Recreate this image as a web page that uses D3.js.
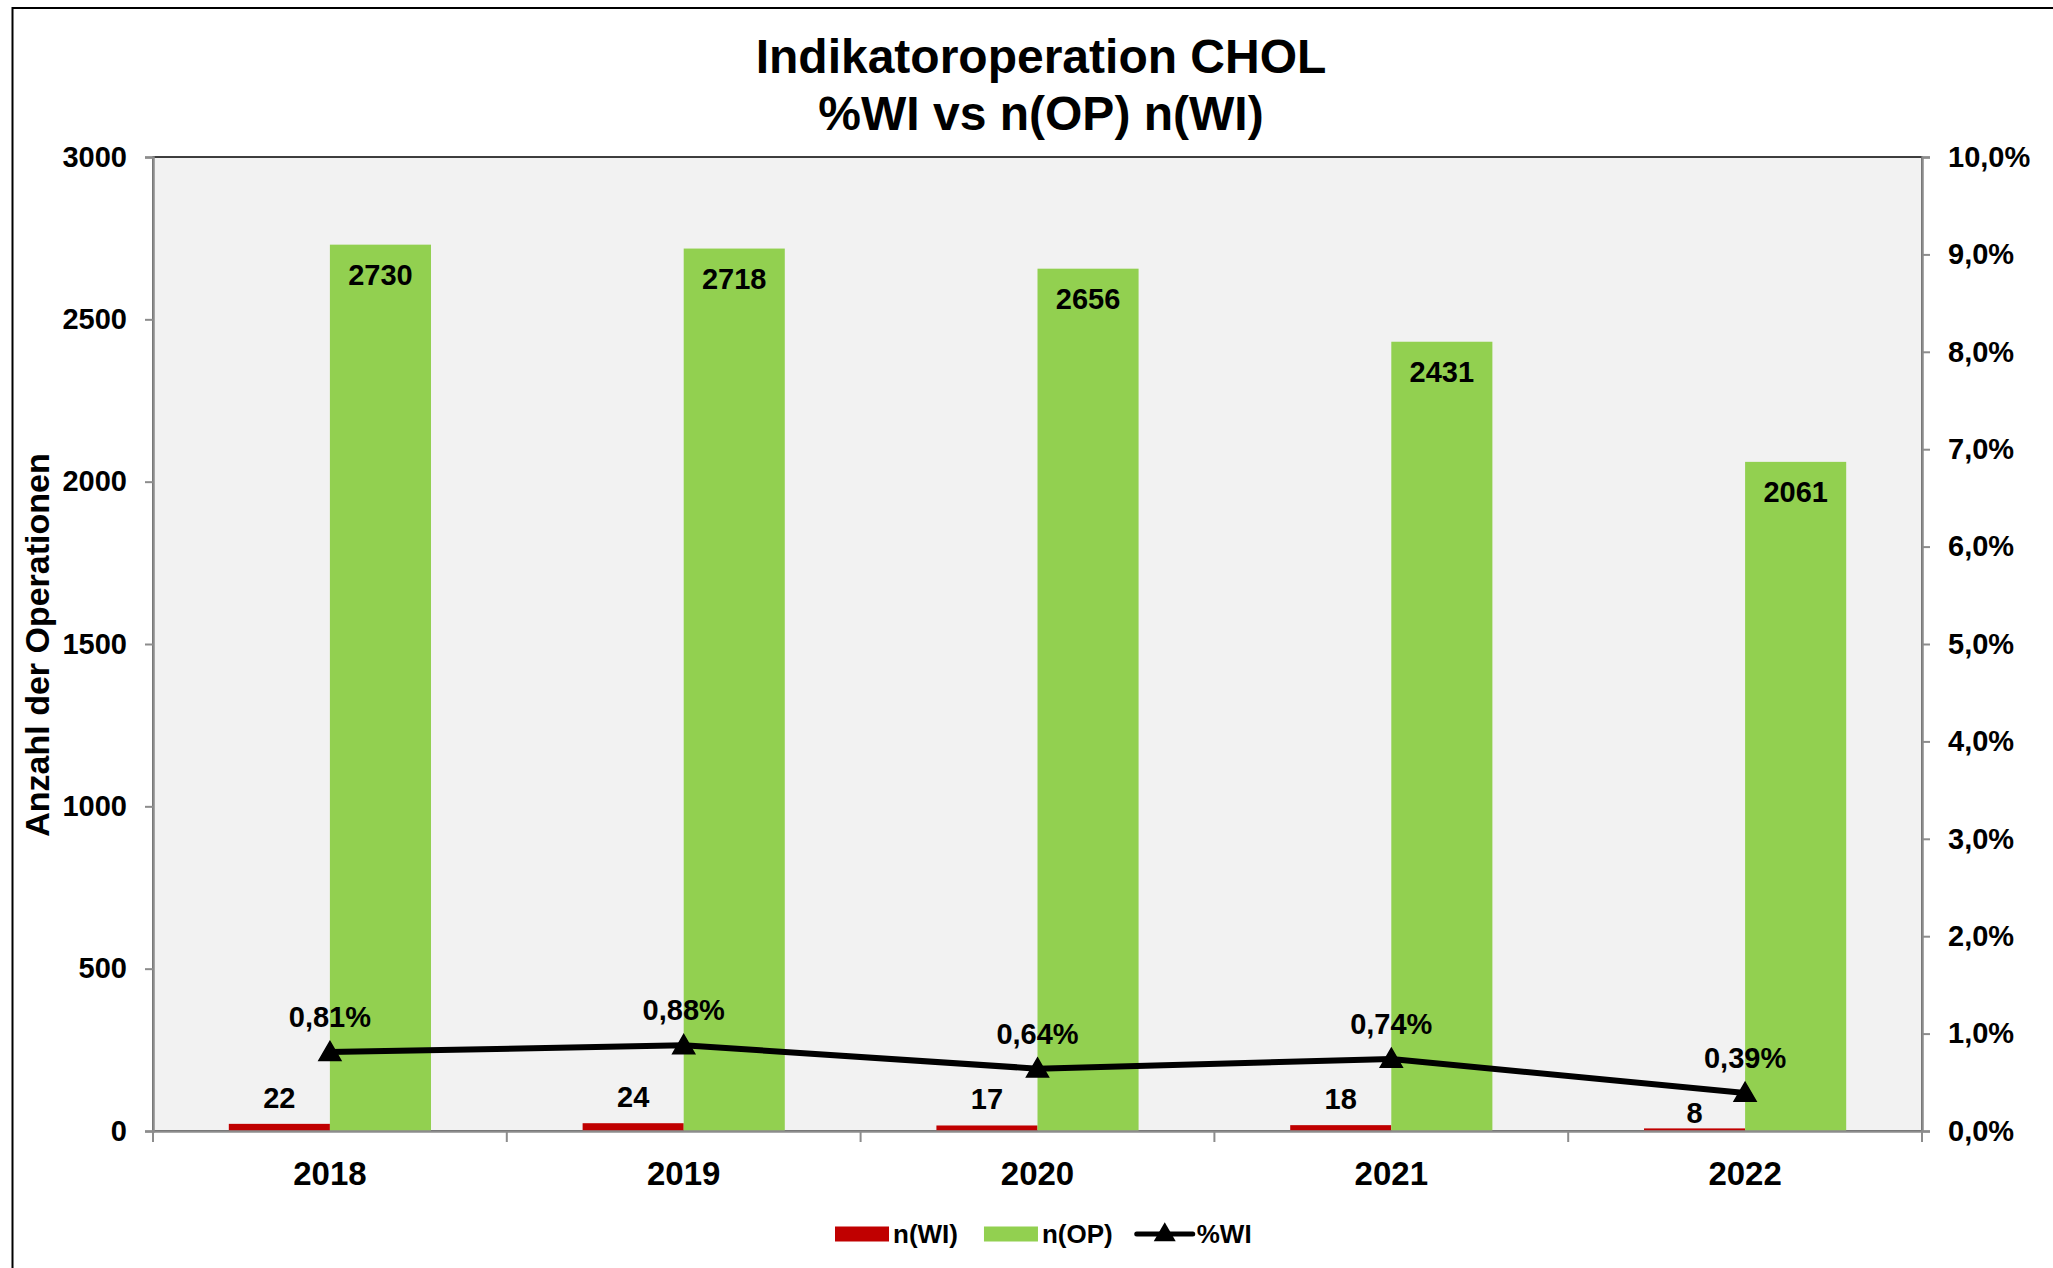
<!DOCTYPE html>
<html>
<head>
<meta charset="utf-8">
<script src="https://cdn.jsdelivr.net/npm/d3@7"></script>
<style>
  body { margin: 0; background: #ffffff; }
  text { font-family: "Liberation Sans", Arial, sans-serif; font-weight: bold; fill: #000; }
</style>
</head>
<body>
<div id="chart"></div>
<script>
// data
var years = ["2018", "2019", "2020", "2021", "2022"];
var nWI = [22, 24, 17, 18, 8];
var nOP = [2730, 2718, 2656, 2431, 2061];
var pctWI = [0.81, 0.88, 0.64, 0.74, 0.39];
var leftTicks = [0, 500, 1000, 1500, 2000, 2500, 3000];
var rightTicks = [0, 1, 2, 3, 4, 5, 6, 7, 8, 9, 10];

var svg_w = 2053, svg_h = 1268;
var plot = {left: 153, right: 1922, top: 157, bottom: 1131};

var svg = d3.select("#chart")
      .append("svg")
      .attr("width", svg_w)
      .attr("height", svg_h);

// outer chart border (runs off the right / bottom edge like the screenshot)
svg.append("rect")
  .attr("x", 12.5)
  .attr("y", 8)
  .attr("width", svg_w + 20)
  .attr("height", svg_h + 20)
  .style("fill", "#ffffff")
  .style("stroke", "#000")
  .style("stroke-width", 2);

// scales
var xScale = d3.scaleBand()
      .domain(years)
      .range([plot.left, plot.right])
      .padding(0);

var subScale = d3.scaleBand()
      .domain(["wi", "op"])
      .range([0, xScale.bandwidth()])
      .paddingInner(0)
      .paddingOuter(0.75);

var yLeft = d3.scaleLinear().domain([0, 3000]).range([plot.bottom, plot.top]);
var yRight = d3.scaleLinear().domain([0, 10]).range([plot.bottom, plot.top]);

// plot background
svg.append("rect")
  .attr("x", plot.left)
  .attr("y", plot.top)
  .attr("width", plot.right - plot.left)
  .attr("height", plot.bottom - plot.top)
  .style("fill", "#f2f2f2")
  .style("stroke", "#000")
  .style("stroke-width", 1.5);

// bars
var rows = years.map(function(y, i) {
  return {year: y, wi: nWI[i], op: nOP[i], pct: pctWI[i]};
});

svg.selectAll(".bar_wi")
  .data(rows)
  .enter()
  .append("rect")
  .attr("class", "bar_wi")
  .attr("x", function(d) { return xScale(d.year) + subScale("wi"); })
  .attr("y", function(d) { return yLeft(d.wi); })
  .attr("width", subScale.bandwidth())
  .attr("height", function(d) { return plot.bottom - yLeft(d.wi); })
  .style("fill", "#c00000");

svg.selectAll(".bar_op")
  .data(rows)
  .enter()
  .append("rect")
  .attr("class", "bar_op")
  .attr("x", function(d) { return xScale(d.year) + subScale("op"); })
  .attr("y", function(d) { return yLeft(d.op); })
  .attr("width", subScale.bandwidth())
  .attr("height", function(d) { return plot.bottom - yLeft(d.op); })
  .style("fill", "#92d050");

// axes
var gray = "#8c8c8c";

var leftAxis = d3.axisLeft(yLeft)
      .tickValues(leftTicks)
      .tickSize(8)
      .tickPadding(18)
      .tickFormat(d3.format("d"));

var gl = svg.append("g")
  .attr("transform", "translate(" + plot.left + ",0)")
  .call(leftAxis);

var rightAxis = d3.axisRight(yRight)
      .tickValues(rightTicks)
      .tickSize(8)
      .tickPadding(18)
      .tickFormat(function(d) { return d.toFixed(1).replace(".", ",") + "%"; });

var gr = svg.append("g")
  .attr("transform", "translate(" + plot.right + ",0)")
  .call(rightAxis);

var bottomAxis = d3.axisBottom(xScale)
      .tickSize(0)
      .tickPadding(31);

var gb = svg.append("g")
  .attr("transform", "translate(0," + plot.bottom + ")")
  .call(bottomAxis);

// category boundary ticks on the x axis
gb.selectAll(".bound")
  .data(years.concat(["end"]))
  .enter()
  .append("line")
  .attr("class", "bound")
  .attr("x1", function(d, i) { return plot.left + i * xScale.step(); })
  .attr("x2", function(d, i) { return plot.left + i * xScale.step(); })
  .attr("y1", 0)
  .attr("y2", 11)
  .style("stroke", gray)
  .style("stroke-width", 2);

[gl, gr, gb].forEach(function(g) {
  g.selectAll(".domain").style("stroke", gray).style("stroke-width", 2.5);
  g.selectAll(".tick line").style("stroke", gray).style("stroke-width", 2);
  g.selectAll("text")
    .style("font-family", "'Liberation Sans', Arial, sans-serif")
    .style("font-weight", "bold")
    .style("fill", "#000");
});
gl.selectAll("text").style("font-size", "29px");
gr.selectAll("text").style("font-size", "29px");
gb.selectAll(".tick text").style("font-size", "33px").attr("dy", "0.71em");

// %WI line
var line = d3.line()
      .x(function(d) { return xScale(d.year) + xScale.bandwidth() / 2; })
      .y(function(d) { return yRight(d.pct); });

svg.append("path")
  .datum(rows)
  .attr("d", line)
  .style("fill", "none")
  .style("stroke", "#000")
  .style("stroke-width", 6)
  .style("stroke-linejoin", "round");

var tri = d3.symbol().type(d3.symbolTriangle).size(210);

svg.selectAll(".marker")
  .data(rows)
  .enter()
  .append("path")
  .attr("class", "marker")
  .attr("d", tri)
  .attr("transform", function(d) {
    return "translate(" + (xScale(d.year) + xScale.bandwidth() / 2) + "," + (yRight(d.pct) + 2) + ")";
  })
  .style("fill", "#000")
  .style("stroke", "#000")
  .style("stroke-width", 1.5);

// data labels
var labelFont = "29px";

svg.selectAll(".lab_op")
  .data(rows)
  .enter()
  .append("text")
  .attr("class", "lab_op")
  .attr("text-anchor", "middle")
  .attr("x", function(d) { return xScale(d.year) + subScale("op") + subScale.bandwidth() / 2; })
  .attr("y", function(d) { return yLeft(d.op) + 40; })
  .style("font-size", labelFont)
  .text(function(d) { return d.op; });

svg.selectAll(".lab_wi")
  .data(rows)
  .enter()
  .append("text")
  .attr("class", "lab_wi")
  .attr("text-anchor", "middle")
  .attr("x", function(d) { return xScale(d.year) + subScale("wi") + subScale.bandwidth() / 2; })
  .attr("y", function(d) {
    var base = yLeft(d.wi) - 16;
    // keep the label clear of the %WI marker (as the 2022 label in the original)
    var minTop = yRight(d.pct) + 9;
    if (base - 21 < minTop) base = minTop + 21;
    return base;
  })
  .style("font-size", labelFont)
  .text(function(d) { return d.wi; });

svg.selectAll(".lab_pct")
  .data(rows)
  .enter()
  .append("text")
  .attr("class", "lab_pct")
  .attr("text-anchor", "middle")
  .attr("x", function(d) { return xScale(d.year) + xScale.bandwidth() / 2; })
  .attr("y", function(d) { return yRight(d.pct) - 25; })
  .style("font-size", labelFont)
  .text(function(d) { return d.pct.toFixed(2).replace(".", ",") + "%"; });

// titles
svg.append("text")
  .attr("text-anchor", "middle")
  .attr("x", 1041)
  .attr("y", 73)
  .style("font-size", "48px")
  .text("Indikatoroperation CHOL");

svg.append("text")
  .attr("text-anchor", "middle")
  .attr("x", 1041)
  .attr("y", 130)
  .style("font-size", "48px")
  .text("%WI vs n(OP) n(WI)");

svg.append("text")
  .attr("text-anchor", "middle")
  .attr("transform", "translate(49," + ((plot.top + plot.bottom) / 2 + 1) + ") rotate(-90)")
  .style("font-size", "34px")
  .text("Anzahl der Operationen");

// legend
var legend = svg.append("g").attr("transform", "translate(835,1234)");
var legendFont = "26px";

var lx = 0;
legend.append("rect")
  .attr("x", lx).attr("y", -7.5).attr("width", 54).attr("height", 15)
  .style("fill", "#c00000");
var t1 = legend.append("text")
  .attr("x", lx + 58).attr("y", 9)
  .style("font-size", legendFont)
  .text("n(WI)");
lx = lx + 58 + t1.node().getComputedTextLength() + 26;

legend.append("rect")
  .attr("x", lx).attr("y", -7.5).attr("width", 54).attr("height", 15)
  .style("fill", "#92d050");
var t2 = legend.append("text")
  .attr("x", lx + 58).attr("y", 9)
  .style("font-size", legendFont)
  .text("n(OP)");
lx = lx + 58 + t2.node().getComputedTextLength() + 24;

legend.append("line")
  .attr("x1", lx).attr("x2", lx + 56).attr("y1", 0).attr("y2", 0)
  .style("stroke", "#000").style("stroke-width", 5).style("stroke-linecap", "round");
legend.append("path")
  .attr("d", tri)
  .attr("transform", "translate(" + (lx + 28) + ",1)")
  .style("fill", "#000");
legend.append("text")
  .attr("x", lx + 60).attr("y", 9)
  .style("font-size", legendFont)
  .text("%WI");
</script>
</body>
</html>
